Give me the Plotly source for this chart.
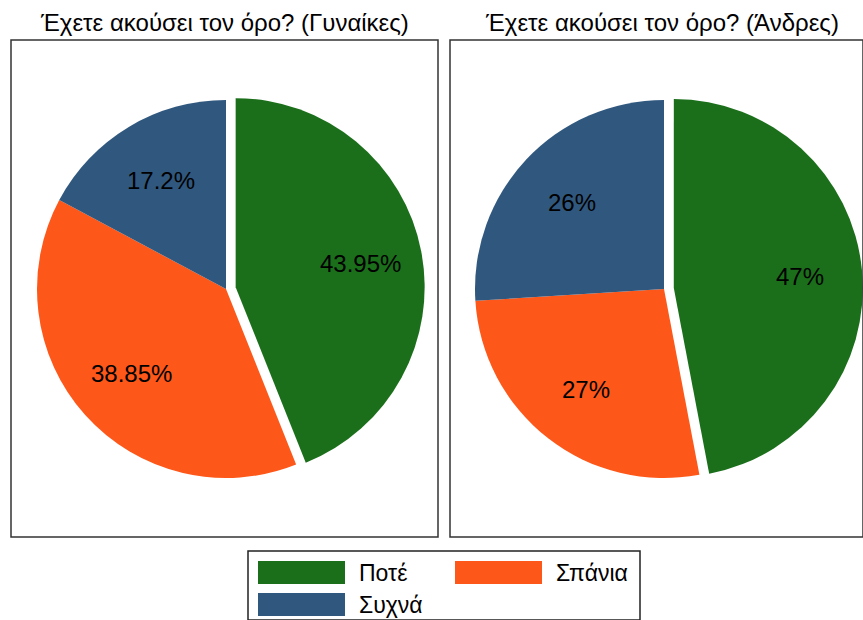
import math
import plotly.graph_objects as go

W, H = 863, 620

# Survey answers: "Have you heard of the term?"
categories = ["Ποτέ", "Σπάνια", "Συχνά"]
women_values = [43.95, 38.85, 17.2]
men_values = [47, 27, 26]
titles = ["Έχετε ακούσει τον όρο? (Γυναίκες)", "Έχετε ακούσει τον όρο? (Άνδρες)"]
colors = ["#1b6f1b", "#fd5719", "#30587e"]
pulls = [0.052, 0, 0]

FONT = "Liberation Sans, Arial, sans-serif"
LABEL_RADIUS = 0.67  # label distance from pie centre, as a fraction of the radius


def px_x(x):
    return min(1.0, max(0.0, x / W))


def px_y(y):
    return min(1.0, max(0.0, 1 - y / H))


def pie_trace(values, cx, cy, r):
    half = r * (1 + max(pulls))
    return go.Pie(
        labels=categories,
        values=values,
        textinfo="none",
        marker=dict(colors=colors, line=dict(width=0)),
        sort=False,
        direction="clockwise",
        rotation=0,
        pull=pulls,
        showlegend=False,
        hoverinfo="label+percent",
        domain=dict(
            x=[px_x(cx - half), px_x(cx + half)],
            y=[px_y(cy + half + 20), px_y(cy - half - 20)],
        ),
    )


def slice_labels(values, cx, cy, r):
    """Percentage labels placed on each slice's bisector (clockwise from 12 o'clock)."""
    total = sum(values)
    out = []
    start = 0.0
    for v, p in zip(values, pulls):
        mid = (start + v / 2) / total * 2 * math.pi
        dist = r * (LABEL_RADIUS + p)
        x = cx + dist * math.sin(mid)
        y = cy - dist * math.cos(mid)
        out.append(dict(text=f"{v:g}%", xref="paper", yref="paper",
                        x=px_x(x), y=px_y(y), xanchor="center", yanchor="middle",
                        showarrow=False, font=dict(family=FONT, size=24, color="black")))
        start += v
    return out


panels = [(women_values, 226, 289, 189), (men_values, 664, 289, 189)]

fig = go.Figure()
annotations = []
for vals, cx, cy, r in panels:
    fig.add_trace(pie_trace(vals, cx, cy, r))
    annotations += slice_labels(vals, cx, cy, r)

shapes = []

# panel frames
for x0, x1 in [(11, 438), (450, 863)]:
    shapes.append(dict(type="rect", xref="paper", yref="paper",
                       x0=px_x(x0), x1=px_x(x1), y0=px_y(537), y1=px_y(40),
                       line=dict(color="#333333", width=1.5), fillcolor="rgba(0,0,0,0)"))

# panel titles
for title, cx in zip(titles, [224.5, 661.5]):
    annotations.append(dict(text=title, xref="paper", yref="paper",
                            x=px_x(cx), y=px_y(22), xanchor="center", yanchor="middle",
                            showarrow=False, font=dict(family=FONT, size=24, color="black")))

# legend box
shapes.append(dict(type="rect", xref="paper", yref="paper",
                   x0=px_x(248), x1=px_x(640), y0=px_y(625), y1=px_y(551),
                   line=dict(color="#222222", width=1.5), fillcolor="white"))
legend_slots = [(258, 561), (455, 561), (258, 593)]
for (lx, ly), name, col in zip(legend_slots, categories, colors):
    shapes.append(dict(type="rect", xref="paper", yref="paper",
                       x0=px_x(lx), x1=px_x(lx + 87), y0=px_y(ly + 23), y1=px_y(ly),
                       line=dict(width=0), fillcolor=col))
    annotations.append(dict(text=name, xref="paper", yref="paper",
                            x=px_x(lx + 99), y=px_y(ly + 12), xanchor="left", yanchor="middle",
                            showarrow=False, font=dict(family=FONT, size=23, color="black")))

fig.update_layout(
    width=W, height=H,
    margin=dict(l=0, r=0, t=0, b=0),
    paper_bgcolor="white",
    plot_bgcolor="white",
    shapes=shapes,
    annotations=annotations,
)

fig.write_html("out.html")
